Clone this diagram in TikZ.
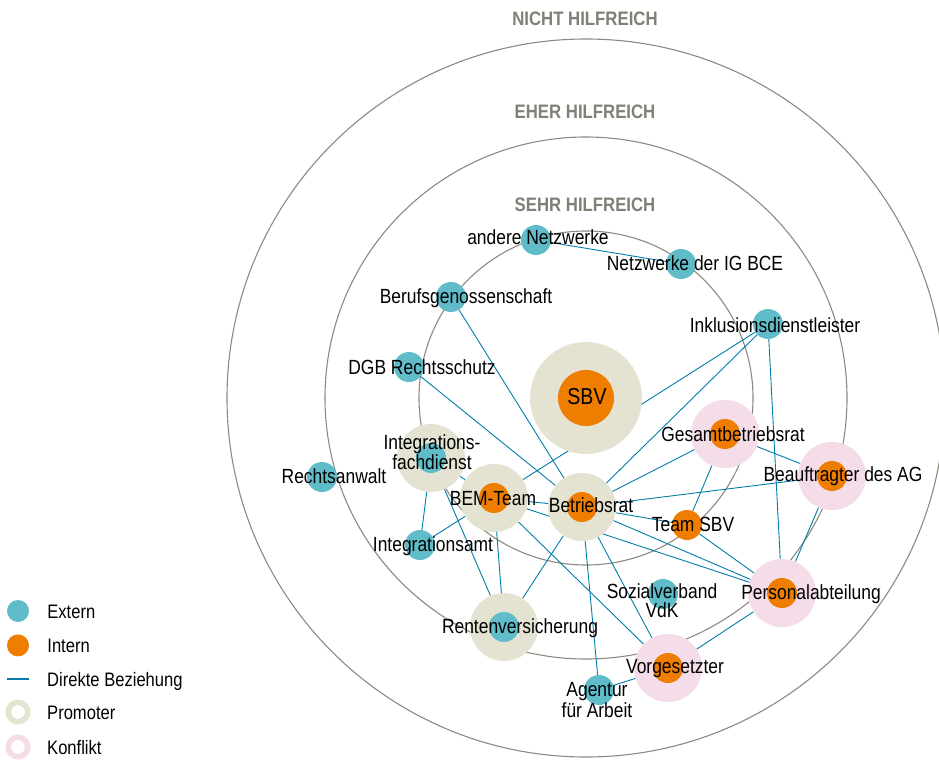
\documentclass[tikz,border=0pt]{standalone}
\usepackage{fontspec}
\setmainfont{Liberation Sans}[FakeStretch=0.85]
\newfontfamily\headfam{Liberation Sans}[FakeStretch=0.86]
\usepackage{tikz}
\usetikzlibrary{positioning}
\usetikzlibrary{backgrounds}

\definecolor{extern}{RGB}{95,188,200}
\definecolor{intern}{RGB}{239,125,0}
\definecolor{promoter}{RGB}{228,226,208}
\definecolor{konflikt}{RGB}{245,220,233}
\definecolor{beziehung}{RGB}{0,125,170}
\definecolor{ringgrau}{RGB}{140,138,128}
\definecolor{kopfgrau}{RGB}{128,128,118}

\tikzset{
  ext/.style={circle,fill=extern,minimum size=30pt,inner sep=0pt},
  int/.style={circle,fill=intern,minimum size=30pt,inner sep=0pt},
  prom/.style={circle,fill=promoter,minimum size=68pt,inner sep=0pt},
  konf/.style={circle,fill=konflikt,minimum size=68pt,inner sep=0pt},
  lbl/.style={font=\fontsize{20.5}{19}\selectfont,inner sep=0pt,text height=15pt,text depth=0pt},
  lbltwo/.style={font=\fontsize{20.5}{19}\selectfont,inner sep=0pt,align=center},
  leg/.style={font=\fontsize{19.5}{20}\selectfont,inner sep=0pt,text height=14pt,text depth=0pt},
  legring/.style={circle,fill=white,line width=5.5pt,minimum size=19.5pt,inner sep=0pt},
  kopf/.style={font=\headfam\bfseries\fontsize{19.5}{20}\selectfont,text=kopfgrau,inner sep=0pt,text height=14pt,text depth=0pt},
  rel/.style={draw=beziehung,line width=0.9pt},
  zone/.style={draw=ringgrau,line width=1.1pt},
}

\begin{document}
\begin{tikzpicture}[x=1pt,y=-1pt]
\useasboundingbox (0,0) rectangle (939,760);

\coordinate (c) at (586,398);
\node[kopf] (nicht) at (585,19) {NICHT HILFREICH};
\node[kopf] (eher) at (585,111) {EHER HILFREICH};
\node[kopf] (sehr) at (585,204) {SEHR HILFREICH};

% Akteure
\node[prom,minimum size=112pt] (sbv) at (c) {};
\node[int,minimum size=56pt] (sbv-in) at (c) {};
\node[font=\fontsize{23}{24}\selectfont,inner sep=0pt] (sbv-l) at (587,397) {SBV};

\node[ext] (andnw) at (536,240) {};
\node[ext] (igbce) at (681,264) {};
\node[ext] (bg) at (451,297) {};
\node[ext] (inkl) at (768,324) {};
\node[ext] (dgb) at (409,367) {};
\node[ext] (ra) at (322,477) {};
\node[ext] (ia) at (420,545) {};
\node[ext] (vdk) at (663,594) {};
\node[ext] (aa) at (599,690) {};
\node[int] (tsbv) at (687,525) {};

\node[prom] (ifd) at (431,458) {};
\node[ext] (ifd-in) at (ifd) {};
\node[prom] (bem) at (494,498) {};
\node[int] (bem-in) at (bem) {};
\node[prom] (br) at (582,507) {};
\node[int] (br-in) at (br) {};
\node[prom] (rv) at (504,627) {};
\node[ext] (rv-in) at (rv) {};
\node[konf] (gbr) at (725,434) {};
\node[int] (gbr-in) at (gbr) {};
\node[konf] (bag) at (832,476) {};
\node[int] (bag-in) at (bag) {};
\node[konf] (pa) at (782,593) {};
\node[int] (pa-in) at (pa) {};
\node[konf] (vg) at (668,668) {};
\node[int] (vg-in) at (vg) {};

% Beschriftungen
\node[lbl] (andnw-l) at (538,237) {andere Netzwerke};
\node[lbl] (igbce-l) at (695,263) {Netzwerke der IG BCE};
\node[lbl] (bg-l) at (466,296) {Berufsgenossenschaft};
\node[lbl] (inkl-l) at (775,325) {Inklusionsdienstleister};
\node[lbl] (dgb-l) at (422,367) {DGB Rechtsschutz};
\node[lbltwo] (ifd-l) at (432,452) {Integrations-\\fachdienst};
\node[lbl] (ra-l) at (334,476) {Rechtsanwalt};
\node[lbl] (bem-l) at (493,498) {BEM-Team};
\node[lbl] (br-l) at (591,505) {Betriebsrat};
\node[lbl] (gbr-l) at (733,434) {Gesamtbetriebsrat};
\node[lbl] (bag-l) at (843,474) {Beauftragter des AG};
\node[lbl] (tsbv-l) at (693,524) {Team SBV};
\node[lbl] (ia-l) at (433,544) {Integrationsamt};
\node[lbltwo] (vdk-l) at (662,601) {Sozialverband\\VdK};
\node[lbl] (pa-l) at (811,592) {Personalabteilung};
\node[lbl] (rv-l) at (520,626) {Rentenversicherung};
\node[lbl] (vg-l) at (675,666) {Vorgesetzter};
\node[lbltwo] (aa-l) at (597,700) {Agentur\\für Arbeit};

\begin{scope}[on background layer]
\draw[zone] (c) circle (359pt);
\draw[zone] (c) circle (261pt);
\draw[zone] (c) circle (167pt);
\draw[rel] (andnw) -- (igbce);
\draw[rel] (bg) -- (br);
\draw[rel] (dgb) -- (br);
\draw[rel] (inkl) -- (bem);
\draw[rel] (inkl) -- (br);
\draw[rel] (inkl) -- (pa);
\draw[rel] (gbr) -- (br);
\draw[rel] (gbr) -- (tsbv);
\draw[rel] (gbr) -- (bag);
\draw[rel] (br) -- (bag);
\draw[rel] (bag) -- (pa);
\draw[rel] (br) -- (tsbv);
\draw[rel] (tsbv) -- (pa);
\draw[rel] (br) -- (pa);
\draw[rel] (bem) -- (pa);
\draw[rel] (bem) -- (br);
\draw[rel] (ifd) -- (bem);
\draw[rel] (ifd) -- (ia);
\draw[rel] (ifd) -- (rv);
\draw[rel] (ia) -- (bem);
\draw[rel] (bem) -- (rv);
\draw[rel] (br) -- (rv);
\draw[rel] (bem) -- (vg);
\draw[rel] (br) -- (vg);
\draw[rel] (br) -- (aa);
\draw[rel] (aa) -- (vg);
\draw[rel] (vg) -- (pa);
\end{scope}

% Legende
\node[ext,minimum size=22pt] (lg-ext) at (18,611) {};
\node[leg,right=18pt of lg-ext] (lg-ext-l) {Extern};
\node[int,minimum size=22pt,below=12pt of lg-ext] (lg-int) {};
\node[leg,right=18pt of lg-int] (lg-int-l) {Intern};
\coordinate (lg-rel-a) at (7,679);
\coordinate (lg-rel-b) at (29,679);
\draw[beziehung,line width=2.4pt] (lg-rel-a) -- (lg-rel-b);
\node[leg,right=18pt of lg-rel-b] (lg-rel-l) {Direkte Beziehung};
\node[legring,draw=promoter] (lg-pro) at (18,712) {};
\node[leg,right=16.5pt of lg-pro] (lg-pro-l) {Promoter};
\node[legring,draw=konflikt] (lg-konf) at (18,747) {};
\node[leg,right=16.5pt of lg-konf] (lg-konf-l) {Konflikt};
\end{tikzpicture}
\end{document}
